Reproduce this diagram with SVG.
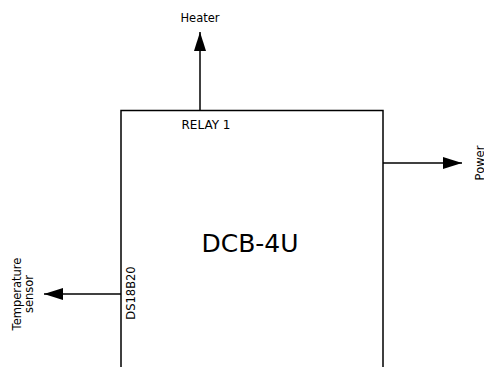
<svg xmlns="http://www.w3.org/2000/svg" width="484" height="367" viewBox="0 0 484 367">
<style>
text{font-family:"DejaVu Sans","Liberation Sans",sans-serif;fill:#000}
.l{font-size:11.5px}
.ln{stroke:#000;stroke-width:1.5;fill:none}
</style>
<defs>
<marker id="ah" markerWidth="19" markerHeight="12" refX="19" refY="6" orient="auto" markerUnits="userSpaceOnUse">
<path d="M0,0 L19,6 L0,12 Z" fill="#000"/>
</marker>
</defs>
<rect width="484" height="367" fill="#fff"/>
<g id="dcb4u">
<path class="ln" d="M121,367 V110.5 H383 V367"/>
<text x="250" y="252" font-size="25" text-anchor="middle">DCB-4U</text>
<text x="206" y="129" font-size="12" text-anchor="middle">RELAY 1</text>
<text class="l" transform="translate(135,293) rotate(-90)" text-anchor="middle">DS18B20</text>
</g>
<g id="heater"><text class="l" x="200" y="22" text-anchor="middle">Heater</text></g>
<g id="power"><text class="l" transform="translate(483.5,163) rotate(-90)" text-anchor="middle">Power</text></g>
<g id="sensor">
<text class="l" transform="translate(21,294) rotate(-90)" text-anchor="middle">Temperature</text>
<text class="l" transform="translate(33,294) rotate(-90)" text-anchor="middle">sensor</text>
</g>
<g id="connectors">
<line class="ln" x1="200" y1="110" x2="200" y2="32" marker-end="url(#ah)"/>
<line class="ln" x1="383" y1="163" x2="462" y2="163" marker-end="url(#ah)"/>
<line class="ln" x1="121" y1="294" x2="44" y2="294" marker-end="url(#ah)"/>
</g>
</svg>
